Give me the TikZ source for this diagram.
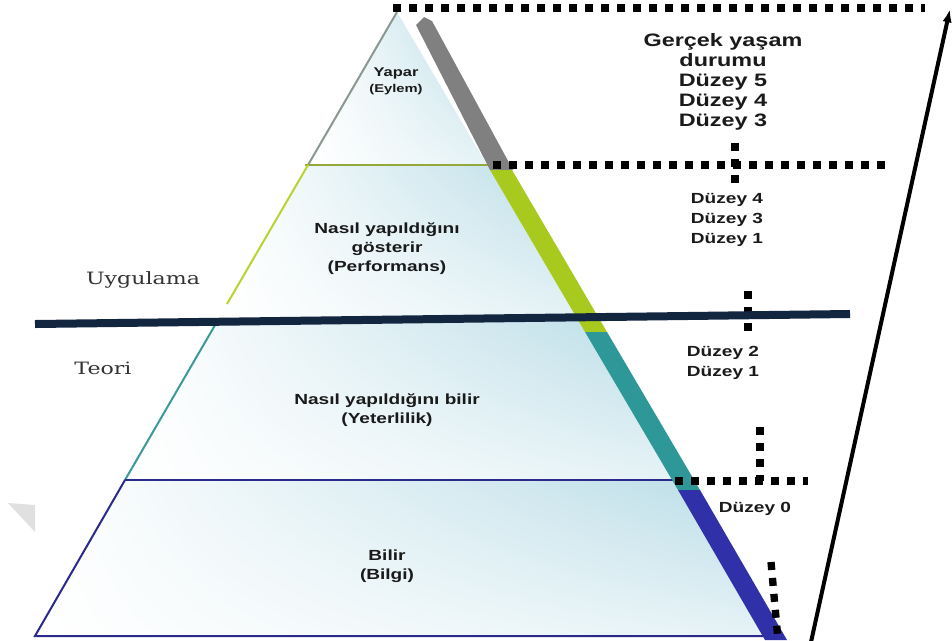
\documentclass[tikz,border=0pt]{standalone}
\usepackage{fontspec}
\setmainfont{Liberation Sans}[FakeStretch=1.3]
\newfontfamily\labelserif{DejaVu Serif}[FakeStretch=1.3]
\usetikzlibrary{arrows.meta,shadings}
\definecolor{navyline}{HTML}{13263F}
\definecolor{pyrblue}{HTML}{B8DCE6}
\definecolor{edgegray}{HTML}{8A9890}
\definecolor{edgeolive}{HTML}{95A83A}
\definecolor{edgegreen}{HTML}{B8D430}
\definecolor{edgeteal}{HTML}{3A9A9A}
\definecolor{edgenavy}{HTML}{2A2A8A}
\definecolor{bandgray}{HTML}{808080}
\definecolor{bandgreen}{HTML}{A8CA1E}
\definecolor{bandteal}{HTML}{2E9898}
\definecolor{bandblue}{HTML}{3030A8}
\definecolor{txt}{HTML}{1A1A1A}
\definecolor{sertxt}{HTML}{333333}
\begin{document}
\begin{tikzpicture}[x=0.75pt,y=-0.75pt,
  layershade/.style={upper left=white, upper right=pyrblue, lower left=white, lower right=pyrblue!35!white},
  edge/.style={line width=1.5pt},
  dotline/.style={line width=5.5pt, dash pattern=on 6pt off 6pt, black},
  boldlabel/.style={align=center, text=txt, font=\bfseries\fontsize{11}{14.25}\selectfont, inner sep=0pt},
  levellabel/.style={align=center, text=txt, font=\bfseries\fontsize{11}{15}\selectfont, inner sep=0pt},
  toplabel/.style={align=center, text=txt, font=\bfseries\fontsize{13.5}{15}\selectfont, inner sep=0pt},
  sidelabel/.style={text=sertxt, font=\labelserif\fontsize{12.75}{15}\selectfont, inner sep=0pt},
  bigarrow/.style={line width=3pt, -{Latex[length=10pt,width=7pt]}}
]
\useasboundingbox (0,0) rectangle (952,640);
\fill[white] (0,0) rectangle (952,640);

% faint mark at left
\fill[black!12] (8,503) -- (35,505) -- (35,532) -- cycle;

% pyramid layers
\shade[layershade] (397,12) -- (308,165) -- (487,165) -- cycle;
\shade[layershade] (308,165) -- (487,165) -- (578,320) -- (218,320) -- cycle;
\shade[layershade] (218,320) -- (578,320) -- (673,480) -- (125,480) -- cycle;
\shade[layershade] (125,480) -- (673,480) -- (765,636) -- (35,636) -- cycle;

% edges
\draw[edge, edgegray] (397,12) -- (308,165);
\draw[edge, edgeolive] (305,165) -- (490,165);
\draw[edge, edgegreen] (308,165) -- (227,304);
\draw[edge, edgeteal] (218,320) -- (125,480);
\draw[edge, edgenavy] (125,480) -- (673,480);
\draw[edge, edgenavy] (125,480) -- (35,636) -- (765,636);

% right band
\fill[bandgray] (416,25) -- (424,17) -- (432,21) -- (513,170) -- (490,170) -- cycle;
\fill[bandgreen] (490,170) -- (512,170) -- (607,332) -- (585,332) -- cycle;
\fill[bandteal] (585,332) -- (607,332) -- (700,490) -- (678,490) -- cycle;
\fill[bandblue] (678,490) -- (700,490) -- (787,640) -- (765,640) -- cycle;

% dotted lines
\coordinate (d1a) at (393,8);   \coordinate (d1b) at (925,8);
\coordinate (d2a) at (493,165); \coordinate (d2b) at (885,165);
\coordinate (v1a) at (735,143); \coordinate (v1b) at (735,183);
\coordinate (v2a) at (748,291); \coordinate (v2b) at (748,335);
\coordinate (v3a) at (760,427); \coordinate (v3b) at (760,481);
\coordinate (d3a) at (675,481); \coordinate (d3b) at (808,481);
\coordinate (v4a) at (771,562); \coordinate (v4b) at (778,640);
\draw[dotline] (d1a) -- (d1b);
\draw[dotline] (d2a) -- (d2b);
\draw[dotline] (v1a) -- (v1b);
\draw[dotline] (v2a) -- (v2b);
\draw[dotline] (v3a) -- (v3b);
\draw[dotline] (d3a) -- (d3b);
\draw[dotline] (v4a) -- (v4b);

% theory / practice divider
\coordinate (divl) at (35,324);
\coordinate (divr) at (850,314);
\draw[navyline, line width=6pt] (divl) -- (divr);

% arrow
\coordinate (arrs) at (811,642);
\coordinate (arre) at (950,9);
\draw[bigarrow] (arrs) -- (arre);

% pyramid texts
\node[align=center, text=txt, inner sep=0pt] (yapar) at (396,81)
  {{\bfseries\fontsize{9.5}{12}\selectfont Yapar}\\[0pt]{\bfseries\fontsize{8.5}{11}\selectfont (Eylem)}};
\node[boldlabel] (perf) at (387,249) {Nasıl yapıldığını\\gösterir\\(Performans)};
\node[boldlabel] (yet) at (387,410) {Nasıl yapıldığını bilir\\(Yeterlilik)};
\node[boldlabel] (bilgi) at (387,566) {Bilir\\(Bilgi)};

% right texts
\node[toplabel] (gercek) at (723,82) {Gerçek yaşam\\durumu\\Düzey 5\\Düzey 4\\Düzey 3};
\node[levellabel] (d431) at (727,220) {Düzey 4\\Düzey 3\\Düzey 1};
\node[levellabel] (d21) at (723,363) {Düzey 2\\Düzey 1};
\node[levellabel] (d0) at (755,509) {Düzey 0};

% side labels
\node[sidelabel] (uyg) at (143,280) {Uygulama};
\node[sidelabel] (teori) at (103,368) {Teori};
\end{tikzpicture}
\end{document}
